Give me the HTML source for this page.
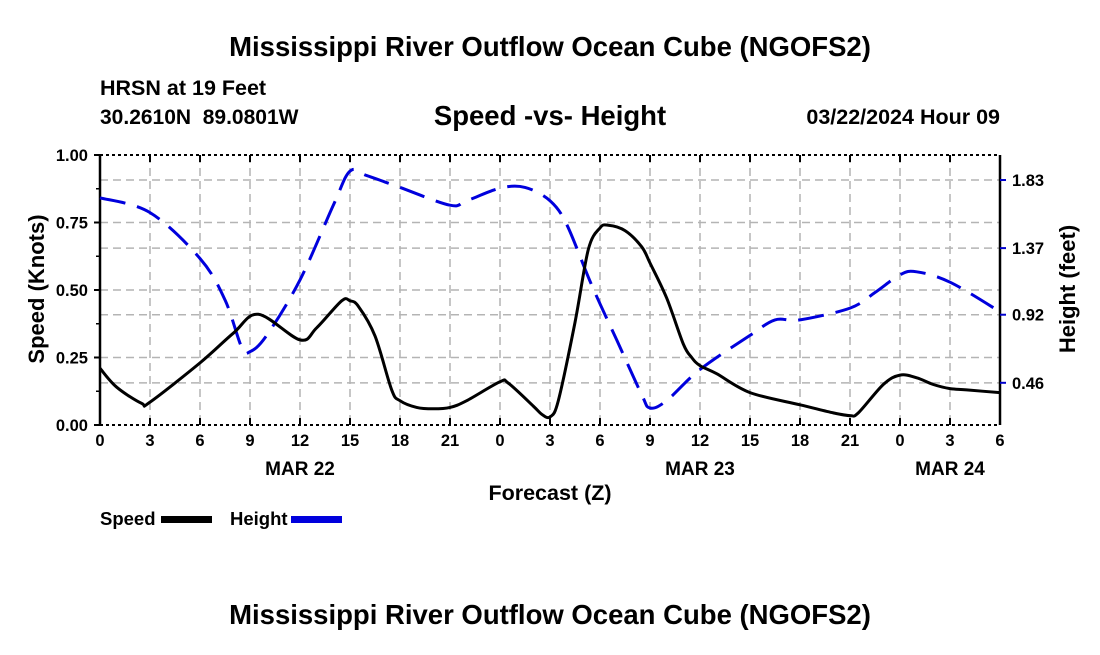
<!DOCTYPE html>
<html><head><meta charset="utf-8"><style>
body{margin:0;background:#fff;}
svg text{font-family:"Liberation Sans",Arial,sans-serif;font-weight:bold;fill:#000;}
</style></head><body>
<svg id="chart" width="1100" height="650" xmlns="http://www.w3.org/2000/svg">
<rect width="1100" height="650" fill="#fff"/>
<text x="550" y="56" font-size="27.5" text-anchor="middle">Mississippi River Outflow Ocean Cube (NGOFS2)</text>
<text x="100" y="95" font-size="21.5">HRSN at 19 Feet</text>
<text x="100" y="124" font-size="21" xml:space="preserve">30.2610N  89.0801W</text>
<text x="550" y="125" font-size="27.5" text-anchor="middle">Speed -vs- Height</text>
<text x="1000" y="124" font-size="21.5" text-anchor="end">03/22/2024 Hour 09</text>
<g id="grid"></g>
<g id="axes"></g>
<g id="series"></g>
<text transform="translate(44,289) rotate(-90)" font-size="22" text-anchor="middle">Speed (Knots)</text>
<text transform="translate(1075,289) rotate(-90)" font-size="22" text-anchor="middle">Height (feet)</text>
<text x="550" y="500" font-size="21.5" text-anchor="middle">Forecast (Z)</text>
<g>
<text x="100" y="525" font-size="18.5">Speed</text>
<rect x="161" y="516" width="51" height="7" fill="#000"/>
<text x="230" y="525" font-size="18.5">Height</text>
<rect x="291" y="516" width="51" height="7" fill="#0000dd"/>
</g>
<text x="550" y="624" font-size="27.5" text-anchor="middle">Mississippi River Outflow Ocean Cube (NGOFS2)</text>
</svg>
<script>
const speedHours=[0,1,2.5,3,6,8,9.5,12,13,14.5,15,15.5,16.5,17.5,18,19,20,21,22,24,24.5,26,26.5,27,27.5,28.5,29.3,30,30.5,31.5,32.5,33,34,35,35.5,36,37,39,42,44,45,45.5,47,48,49,50,51,52,54];
const speedValues=[0.21,0.14,0.08,0.085,0.23,0.34,0.41,0.315,0.36,0.46,0.46,0.44,0.33,0.13,0.09,0.065,0.06,0.065,0.09,0.16,0.155,0.07,0.04,0.03,0.09,0.38,0.65,0.73,0.74,0.72,0.66,0.6,0.47,0.3,0.25,0.22,0.19,0.12,0.075,0.045,0.035,0.045,0.15,0.185,0.175,0.15,0.135,0.13,0.12];
const heightHours=[0,3,6,7.5,8.5,9,10,12,14,15,16,18,21,22,24,25.5,27,28,29.5,31,32.5,33,34,36,39,40.5,42,45,46.5,48,49,51,54];
const heightValues=[1.71,1.61,1.30,1.02,0.70,0.67,0.78,1.155,1.66,1.89,1.86,1.78,1.66,1.69,1.775,1.78,1.69,1.53,1.12,0.75,0.38,0.29,0.34,0.55,0.78,0.885,0.885,0.965,1.07,1.19,1.21,1.14,0.94];
const speedTicks=[0,0.25,0.5,0.75,1];
const speedTickLabels=["0.00","0.25","0.50","0.75","1.00"];
const heightTicks=[0.46,0.92,1.37,1.83];
const hourTickLabels=["0","3","6","9","12","15","18","21","0","3","6","9","12","15","18","21","0","3","6"];
const dayLabels=[{h:12,t:"MAR 22"},{h:36,t:"MAR 23"},{h:51,t:"MAR 24"}];
const X0=100,X1=1000,Y0=425,Y1=155,HMAX=54,HMIN_FT=0.175,HSPAN_FT=1.824;
const NS="http://www.w3.org/2000/svg";
const xs=h=>X0+(X1-X0)*h/HMAX;
const ys=v=>Y0-(Y0-Y1)*v;
const yh=f=>Y0-(Y0-Y1)*(f-HMIN_FT)/HSPAN_FT;
function mk(tag,attrs,parent,txt){const e=document.createElementNS(NS,tag);for(const k in attrs)e.setAttribute(k,attrs[k]);if(txt!==undefined)e.textContent=txt;parent.appendChild(e);return e;}
const grid=document.getElementById('grid'),axes=document.getElementById('axes'),series=document.getElementById('series');
const gs={stroke:"#b4b4b4","stroke-width":1.5,"stroke-dasharray":"8,5"};
for(let i=1;i<hourTickLabels.length-1;i++){const l=mk('line',Object.assign({x1:xs(i*3),x2:xs(i*3),y1:Y1,y2:Y0},gs),grid);

}
speedTicks.slice(1,-1).forEach(v=>{const l=mk('line',Object.assign({x1:X0,x2:X1,y1:ys(v),y2:ys(v)},gs),grid);

});
heightTicks.forEach(v=>{const l=mk('line',Object.assign({x1:X0,x2:X1,y1:yh(v),y2:yh(v)},gs),grid);

});
mk('line',{x1:X0,x2:X0,y1:Y1,y2:Y0,stroke:"#000","stroke-width":2.5},axes);
mk('line',{x1:X1,x2:X1,y1:Y1,y2:Y0,stroke:"#000","stroke-width":2.5},axes);
mk('line',{x1:X0,x2:X1,y1:Y1,y2:Y1,stroke:"#000","stroke-width":2,"stroke-dasharray":"3,3"},axes);
mk('line',{x1:X0,x2:X1,y1:Y0,y2:Y0,stroke:"#000","stroke-width":2,"stroke-dasharray":"3,3"},axes);
hourTickLabels.forEach((t,i)=>{const x=xs(i*3);
mk('line',{x1:x,x2:x,y1:Y0,y2:Y0-7,stroke:"#000","stroke-width":2},axes);
mk('line',{x1:x,x2:x,y1:Y1,y2:Y1+7,stroke:"#000","stroke-width":2},axes);
const tx=mk('text',{x:x,y:Y0+21,"font-size":16.5,"text-anchor":"middle"},axes,t);

});
dayLabels.forEach(d=>{const tx=mk('text',{x:xs(d.h),y:Y0+50,"font-size":19,"text-anchor":"middle"},axes,d.t);

});
speedTicks.forEach((v,i)=>{const y=ys(v);
mk('line',{x1:X0-6,x2:X0,y1:y,y2:y,stroke:"#000","stroke-width":2},axes);
const tx=mk('text',{x:X0-12,y:y+6,"font-size":16.5,"text-anchor":"end"},axes,speedTickLabels[i]);

});
for(let v=0.125;v<1;v+=0.25){mk('line',{x1:X0-4,x2:X0,y1:ys(v),y2:ys(v),stroke:"#000","stroke-width":1.5},axes);}
heightTicks.forEach(v=>{const y=yh(v);
mk('line',{x1:X1,x2:X1+6,y1:y,y2:y,stroke:"#0000cc","stroke-width":2},axes);
const tx=mk('text',{x:X1+12,y:y+6,"font-size":16.5},axes,v.toFixed(2));

});
function smooth(pts){let d=`M${pts[0][0]},${pts[0][1]}`;for(let i=0;i<pts.length-1;i++){const p0=pts[i-1]||pts[i],p1=pts[i],p2=pts[i+1],p3=pts[i+2]||p2;
const c1=[p1[0]+(p2[0]-p0[0])/6,p1[1]+(p2[1]-p0[1])/6],c2=[p2[0]-(p3[0]-p1[0])/6,p2[1]-(p3[1]-p1[1])/6];
d+=`C${c1[0].toFixed(1)},${c1[1].toFixed(1)} ${c2[0].toFixed(1)},${c2[1].toFixed(1)} ${p2[0].toFixed(1)},${p2[1].toFixed(1)}`;}return d;}
const hp=mk('path',{d:smooth(heightHours.map((h,i)=>[xs(h),yh(heightValues[i])])),fill:"none",stroke:"#0000dd","stroke-width":3,"stroke-dasharray":"26,12"},series);


const sp=mk('path',{d:smooth(speedHours.map((h,i)=>[xs(h),ys(speedValues[i])])),fill:"none",stroke:"#000","stroke-width":3},series);


</script>
</body></html>
